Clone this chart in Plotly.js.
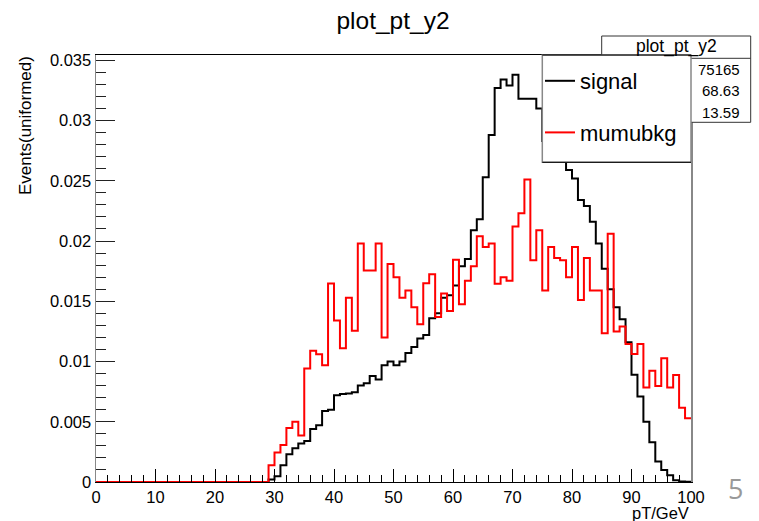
<!DOCTYPE html>
<html><head><meta charset="utf-8">
<script src="https://cdn.plot.ly/plotly-3.0.1.min.js"></script>
<style>html,body{margin:0;padding:0;background:#fff;} #chart{width:759px;height:521px;}</style>
</head><body><div id="chart"></div>
<script>
// ---- data (100 bins of 1 GeV from 0 to 100) ----
const binLowEdges = [0,1,2,3,4,5,6,7,8,9,10,11,12,13,14,15,16,17,18,19,20,21,22,23,24,25,26,27,28,29,30,31,32,33,34,35,36,37,38,39,40,41,42,43,44,45,46,47,48,49,50,51,52,53,54,55,56,57,58,59,60,61,62,63,64,65,66,67,68,69,70,71,72,73,74,75,76,77,78,79,80,81,82,83,84,85,86,87,88,89,90,91,92,93,94,95,96,97,98,99];
const upperEdge = 100;
const signal = [0,0,0,0,0,0,0,0,0,0,0,0,0,0,0,0,0,0,0,0,0,0,0,0,0,0,0,0,0,
  0.0002,0.00047,0.0014,0.0023,0.0028,0.0032,0.0034,0.0044,0.0047,0.0059,0.0060,
  0.0072,0.0073,0.00735,0.00744,0.0080,0.0082,0.0088,0.0085,0.0097,0.0100,
  0.0097,0.0100,0.0107,0.0112,0.0119,0.0122,0.0136,0.0140,0.0153,0.0155,
  0.0163,0.0179,0.0185,0.0209,0.0218,0.0253,0.0288,0.0327,0.0334,0.0329,
  0.0338,0.0318,0.0318,0.0318,0.0310,0.0283,0.0279,0.0275,0.0270,0.0259,
  0.0252,0.0234,0.0229,0.0216,0.0198,0.0177,0.0160,0.0145,0.0135,0.0116,
  0.0089,0.0071,0.0050,0.0033,0.0017,0.0010,0.00056,0.00014,0.00005,0.00003];
const mumubkg = [0,0,0,0,0,0,0,0,0,0,0,0,0,0,0,0,0,0,0,0,0,0,0,0,0,0,0,0,0,
  0.00139,0.00244,0.00308,0.00449,0.0050,0.00385,0.00943,0.0109,0.0106,0.0097,0.01647,
  0.0134,0.0111,0.0153,0.01255,0.0198,0.01755,0.01755,0.0198,0.0120,0.0181,
  0.0170,0.0153,0.0159,0.0145,0.0131,0.0165,0.01725,0.0137,0.01565,0.0142,
  0.01844,0.01476,0.0167,0.0179,0.0204,0.0195,0.0198,0.01645,0.0170,0.0167,
  0.0212,0.0223,0.0251,0.0184,0.0209,0.0159,0.0195,0.0186,0.0184,0.0170,
  0.0195,0.0151,0.0186,0.0159,0.0159,0.01235,0.0206,0.0125,0.0129,0.01146,
  0.01062,0.01146,0.00785,0.00923,0.00796,0.01027,0.00785,0.00888,0.00616,0.0053];
const seriesNames = ['signal','mumubkg'];
const seriesColors = ['#000000','#ff0000'];
const chartTitle = 'plot_pt_y2';
const xTitle = 'pT/GeV';
const yTitle = 'Events(uniformed)';
const statsValues = ['75165','68.63','13.59'];
const pageNumber = '5';

// ---- helpers ----
const FONT = 'Liberation Sans, Arial, Helvetica, sans-serif';
const W = 759, H = 521;
const M = {l:96, r:68, t:55, b:39};
const PW = W - M.l - M.r, PH = H - M.t - M.b;
const px2x = p => (p - M.l) / PW;        // pixel -> paper x
const py2y = p => (H - M.b - p) / PH;    // pixel -> paper y

function stepTrace(vals, name, color){
  return {
    type:'scatter', mode:'lines', name:name,
    x: binLowEdges.concat([upperEdge]),
    y: vals.concat([vals[vals.length-1]]),
    line:{shape:'hv', color:color, width:2},
    legendgroup:name, hoverinfo:'skip'
  };
}
const traces = [stepTrace(signal, seriesNames[0], seriesColors[0]),
                stepTrace(mumubkg, seriesNames[1], seriesColors[1])];

const shapes = [
  // stats box
  {type:'rect', xref:'paper', yref:'paper', x0:px2x(601.7), x1:px2x(750.7), y0:py2y(122.3), y1:py2y(36),
   line:{color:'#333', width:1}, fillcolor:'#fff', layer:'above'},
  {type:'line', xref:'paper', yref:'paper', x0:px2x(601.7), x1:px2x(750.7), y0:py2y(58.3), y1:py2y(58.3),
   line:{color:'#333', width:1}, layer:'above'},
  // legend box
  {type:'rect', xref:'paper', yref:'paper', x0:px2x(542.3), x1:1, y0:py2y(162.3), y1:1,
   line:{color:'#888', width:1.5}, fillcolor:'#fff', layer:'above'},
  {type:'line', xref:'paper', yref:'paper', x0:px2x(542.3), x1:1, y0:py2y(162.3), y1:py2y(162.3),
   line:{color:'#000', width:1}, layer:'above'},
  {type:'line', xref:'paper', yref:'paper', x0:px2x(542.3), x1:1, y0:1, y1:1,
   line:{color:'#000', width:1}, layer:'above'}
];

const annotations = [
  {text:chartTitle, xref:'paper', yref:'paper', x:px2x(676), y:py2y(47), xanchor:'center', yanchor:'middle',
   showarrow:false, font:{family:FONT, size:17.5, color:'#000'}},
  ...statsValues.map((v,i)=>({text:v, xref:'paper', yref:'paper', x:px2x(742), y:py2y([69.3,90.7,112.3][i]),
   xanchor:'right', yanchor:'middle', showarrow:false, font:{family:FONT, size:15, color:'#000'}})),
  {text:xTitle, xref:'paper', yref:'paper', x:1, y:py2y(512.5), xanchor:'right', yanchor:'middle',
   showarrow:false, font:{family:FONT, size:16.5, color:'#000'}},
  {text:yTitle, xref:'paper', yref:'paper', x:px2x(26), y:py2y(126), xanchor:'center', yanchor:'middle',
   textangle:-90, showarrow:false, font:{family:FONT, size:17, color:'#000'}},
  {text:pageNumber, xref:'paper', yref:'paper', x:px2x(735.5), y:py2y(488), xanchor:'center', yanchor:'middle',
   showarrow:false, font:{family:'Open Sans, sans-serif', size:27, color:'#999'}}
];

const layout = {
  width:W, height:H, margin:M, paper_bgcolor:'#fff', plot_bgcolor:'#fff',
  title:{text:chartTitle, font:{family:FONT, size:24.5, color:'#000'}, xref:'container', yref:'container',
         x:393/W, xanchor:'center', y:1-20.5/H, yanchor:'middle'},
  showlegend:true,
  legend:{x:px2x(540), y:py2y(60), xanchor:'left', yanchor:'top', bgcolor:'rgba(0,0,0,0)', borderwidth:0,
          font:{family:FONT, size:22, color:'#000'}, tracegroupgap:20, traceorder:'grouped'},
  xaxis:{range:[0,100], showgrid:false, zeroline:false, showline:true, linecolor:'#000', linewidth:1, mirror:true,
         ticks:'inside', ticklen:13, tickcolor:'#000', tickwidth:1, dtick:10, tick0:0,
         minor:{dtick:2, ticklen:7, tickcolor:'#000', ticks:'inside', tickwidth:1},
         tickfont:{family:FONT, size:16.5, color:'#000'}},
  yaxis:{range:[0, 0.035*PH/421.7], showgrid:false, zeroline:false, showline:true, linecolor:'#888', linewidth:1.5, mirror:true,
         ticks:'inside', ticklen:19, tickcolor:'#222', tickwidth:1, dtick:0.005, tick0:0,
         minor:{dtick:0.001, ticklen:10, tickcolor:'#222', ticks:'inside', tickwidth:1},
         tickfont:{family:FONT, size:16.5, color:'#000'}},
  shapes:shapes, annotations:annotations
};

Plotly.newPlot('chart', traces, layout, {staticPlot:true, displayModeBar:false});
</script></body></html>
